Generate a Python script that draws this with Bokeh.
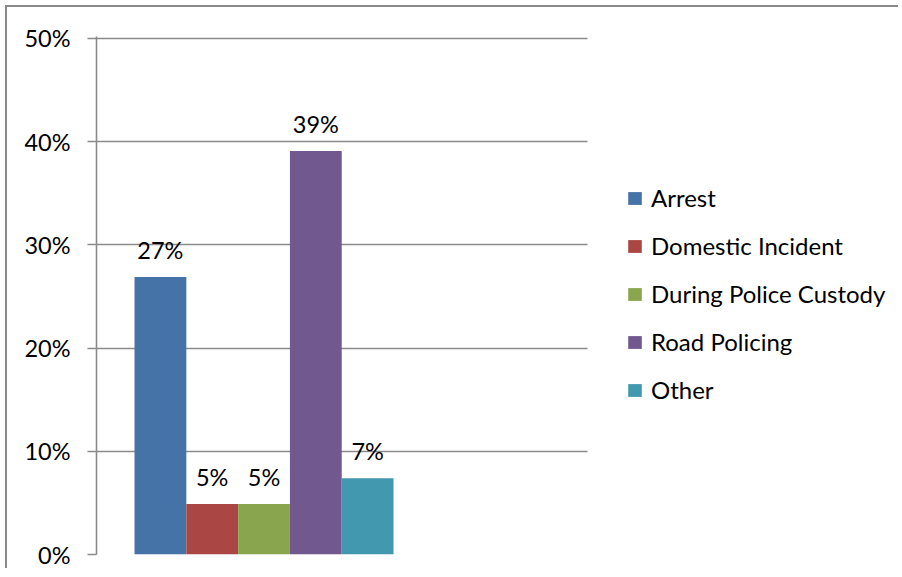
from bokeh.plotting import figure
from bokeh.models import (ColumnDataSource, Range1d, FixedTicker, PrintfTickFormatter,
                          LabelSet, Legend, LegendItem)
from bokeh.core.properties import value
from bokeh.embed import file_html
from bokeh.resources import INLINE

categories = ["Arrest", "Domestic Incident", "During Police Custody", "Road Policing", "Other"]
values = [26.9, 4.9, 4.9, 39.1, 7.4]
colors = ["#4572A7", "#AA4643", "#89A54E", "#71588F", "#4198AF"]
y_ticks = [0, 10, 20, 30, 40, 50]

FONT = "Lato"
FS = "23.5px"
LFS = "24px"
GRAY = "#8a8a8a"

# layout constants (pixels)
W, H = 893, 563
LEFT, TOP, BOTTOM = 89, 29, 16
BAR_PX = 51.8          # width of one bar
X0 = -1.234            # data x at frame left
GRID_PX = 490.7        # length of the grid lines
PX_PER_PCT = 10.33     # vertical pixels per percentage point
HEADROOM_PX = 2
frame_w = W - LEFT
x_end = X0 + frame_w / BAR_PX
grid_end = X0 + GRID_PX / BAR_PX
y_end = y_ticks[-1] + HEADROOM_PX / PX_PER_PCT

src = ColumnDataSource(dict(
    x=list(range(len(categories))),
    top=values,
    cat=categories,
    color=colors,
    label=[f"{round(v)}%" for v in values],
))

p = figure(width=W, height=H, output_backend="svg", toolbar_location=None, tools="",
           x_range=Range1d(X0, x_end), y_range=Range1d(0, y_end),
           min_border_left=LEFT, min_border_top=TOP, min_border_bottom=BOTTOM, min_border_right=0)
p.styles = {"border-top": "2px solid #8a8a8a", "border-left": "2px solid #8a8a8a",
            "margin-left": "5px", "margin-top": "5px"}

r = p.vbar(x="x", top="top", width=1.0, bottom=0, color="color", line_color=None, source=src)

labels = LabelSet(x="x", y="top", text="label", source=src, text_align="center",
                  text_baseline="alphabetic", y_offset=18, text_font=value(FONT),
                  text_font_size=value(FS), text_color="#000000")
p.add_layout(labels)

p.outline_line_color = None
p.xaxis.visible = False
p.xgrid.visible = False
p.ygrid.grid_line_color = GRAY
p.ygrid.grid_line_width = 1.6
p.ygrid.ticker = FixedTicker(ticks=y_ticks)
p.ygrid.cross_bounds = (X0, grid_end)

ax = p.yaxis[0]
ax.ticker = FixedTicker(ticks=y_ticks)
ax.formatter = PrintfTickFormatter(format="%d%%")
ax.axis_line_color = GRAY
ax.axis_line_width = 1.6
ax.major_tick_line_color = GRAY
ax.major_tick_line_width = 1.6
ax.major_tick_out = 9
ax.major_tick_in = 0
ax.minor_tick_line_color = None
ax.major_label_standoff = 17
ax.major_label_text_font = FONT
ax.major_label_text_font_size = FS
ax.major_label_text_color = "#000000"

items = [LegendItem(label=c, renderers=[r], index=i) for i, c in enumerate(categories)]
legend = Legend(items=items, location=(530, 150), orientation="vertical",
                glyph_width=17, glyph_height=16, label_standoff=8,
                label_height=24, spacing=19, margin=0, padding=10,
                label_text_font=FONT, label_text_font_size=LFS, label_text_color="#000000",
                border_line_color=None, background_fill_alpha=0)
p.add_layout(legend)

open("out.html", "w").write(file_html(p, INLINE))
